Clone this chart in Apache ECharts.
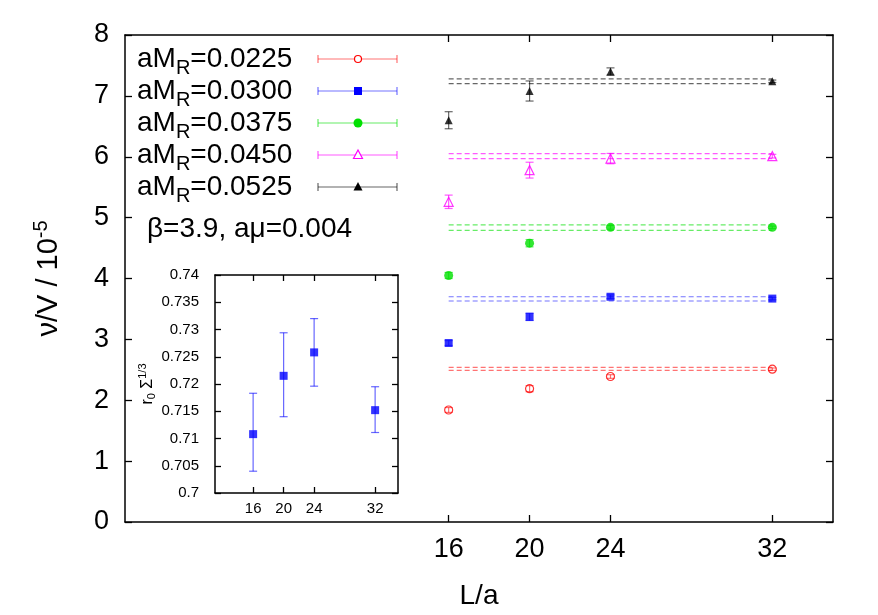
<!DOCTYPE html>
<html>
<head>
<meta charset="utf-8">
<script src="https://cdn.jsdelivr.net/npm/echarts@6/dist/echarts.min.js"></script>
<style>
  html, body { margin: 0; padding: 0; background: #fff; }
  #chart { width: 878px; height: 615px; }
</style>
</head>
<body>
<div id="chart"></div>
<script>
// lattice sizes
var L = [16, 20, 24, 32];
var fitX = [16, 32];

// nu/V in units of 1e-5, one list per aM_R
var masses = ['0.0225', '0.0300', '0.0375', '0.0450', '0.0525'];
var nu0225 = [1.84, 2.19, 2.39, 2.51];
var err0225 = [0.04, 0.05, 0.03, 0.02];
var nu0300 = [2.94, 3.37, 3.70, 3.67];
var err0300 = [0.04, 0.06, 0.03, 0.02];
var nu0375 = [4.05, 4.58, 4.84, 4.84];
var err0375 = [0.05, 0.06, 0.03, 0.02];
var nu0450 = [5.26, 5.78, 5.97, 6.01];
var err0450 = [0.11, 0.13, 0.085, 0.03];
var nu0525 = [6.60, 7.08, 7.40, 7.24];
var err0525 = [0.14, 0.165, 0.06, 0.02];

// constant fit bands (upper, lower)
var fit0225 = [2.54, 2.49];
var fit0300 = [3.70, 3.63];
var fit0375 = [4.88, 4.79];
var fit0450 = [6.05, 5.97];
var fit0525 = [7.28, 7.20];

// inset: r0 * sigma^(1/3)
var r0s = [0.7108, 0.7215, 0.7258, 0.7152];
var r0sLo = [0.7040, 0.7140, 0.7196, 0.7111];
var r0sHi = [0.7183, 0.7294, 0.7320, 0.7195];

var yTicksMain = [0, 1, 2, 3, 4, 5, 6, 7, 8];

var FONT = 'Liberation Sans';
var myChart = echarts.init(document.getElementById('chart'));

var sets = [
  {nu: nu0225, err: err0225, fit: fit0225, color: '#ff0000', light: 'rgba(255,0,0,0.55)', symbol: 'circle', open: true, size: 8},
  {nu: nu0300, err: err0300, fit: fit0300, color: '#0000ff', light: 'rgba(0,0,255,0.55)', symbol: 'rect', size: 8},
  {nu: nu0375, err: err0375, fit: fit0375, color: '#00e000', light: 'rgba(0,224,0,0.6)', symbol: 'circle', size: 9},
  {nu: nu0450, err: err0450, fit: fit0450, color: '#ff00ff', light: 'rgba(255,0,255,0.65)', symbol: 'triangle', open: true, size: 9},
  {nu: nu0525, err: err0525, fit: fit0525, color: '#000000', light: 'rgba(0,0,0,0.6)', symbol: 'triangle', size: 8}
];

// error bar drawer
function errBar(cap) {
  return function (params, api) {
    var x = api.value(0);
    var lo = api.coord([x, api.value(2)]);
    var hi = api.coord([x, api.value(3)]);
    var st = {stroke: api.visual('color'), lineWidth: 1.2, fill: null};
    return {
      type: 'group',
      children: [
        {type: 'line', shape: {x1: lo[0], y1: lo[1], x2: hi[0], y2: hi[1]}, style: st},
        {type: 'line', shape: {x1: lo[0] - cap, y1: lo[1], x2: lo[0] + cap, y2: lo[1]}, style: st},
        {type: 'line', shape: {x1: hi[0] - cap, y1: hi[1], x2: hi[0] + cap, y2: hi[1]}, style: st}
      ]
    };
  };
}

var series = [];
sets.forEach(function (s) {
  s.fit.forEach(function (f) {
    series.push({
      type: 'line', xAxisIndex: 0, yAxisIndex: 0, silent: true,
      data: fitX.map(function (x) { return [x, f]; }),
      symbol: 'none',
      lineStyle: {color: s.light, width: 1.2, type: [5, 3]},
      z: 1
    });
  });
  series.push({
    type: 'custom', xAxisIndex: 0, yAxisIndex: 0,
    renderItem: errBar(4),
    itemStyle: {color: s.light},
    data: L.map(function (x, i) { return [x, s.nu[i], s.nu[i] - s.err[i], s.nu[i] + s.err[i]]; }),
    z: 2
  });
  series.push({
    type: 'scatter', xAxisIndex: 0, yAxisIndex: 0,
    symbol: s.symbol, symbolSize: s.size,
    itemStyle: s.open
      ? {color: 'rgba(0,0,0,0)', borderColor: s.color, borderWidth: 1.2}
      : {color: s.color},
    data: L.map(function (x, i) { return [x, s.nu[i]]; }),
    z: 3
  });
});

// inset
series.push({
  type: 'custom', xAxisIndex: 2, yAxisIndex: 2,
  renderItem: errBar(4),
  itemStyle: {color: 'rgba(0,0,255,0.6)'},
  data: L.map(function (x, i) { return [x, r0s[i], r0sLo[i], r0sHi[i]]; }),
  z: 2
});
series.push({
  type: 'scatter', xAxisIndex: 2, yAxisIndex: 2,
  symbol: 'rect', symbolSize: 8,
  itemStyle: {color: '#0000ff'},
  data: L.map(function (x, i) { return [x, r0s[i]]; }),
  z: 3
});

var frameLine = {show: true, onZero: false, lineStyle: {color: '#000', width: 1.5}};
function tick(len, custom) {
  var t = {show: true, inside: true, length: len, lineStyle: {color: '#000', width: 1.3}};
  if (custom) t.customValues = custom;
  return t;
}

// legend (drawn by hand: text left, error-bar sample right)
var legendRows = [59, 91, 123, 155, 187];
var graphics = [];
masses.forEach(function (m, i) {
  var y = legendRows[i];
  var s = sets[i];
  graphics.push({
    type: 'text', x: 137, y: y,
    style: {
      text: '{a|aM}{s|R}{a|=' + m + '}',
      verticalAlign: 'middle',
      rich: {
        a: {fontSize: 28, fontFamily: FONT, fill: '#000'},
        s: {fontSize: 20, fontFamily: FONT, fill: '#000', padding: [18, 0, 0, 0]}
      }
    }
  });
  var ls = {stroke: s.light, lineWidth: 1.2};
  graphics.push({type: 'line', shape: {x1: 318, y1: y, x2: 397, y2: y}, style: ls});
  graphics.push({type: 'line', shape: {x1: 318, y1: y - 4, x2: 318, y2: y + 4}, style: ls});
  graphics.push({type: 'line', shape: {x1: 397, y1: y - 4, x2: 397, y2: y + 4}, style: ls});
  var cx = 358;
  if (s.symbol === 'circle') {
    graphics.push({type: 'circle', shape: {cx: cx, cy: y, r: s.open ? 3.5 : 4.5},
      style: s.open ? {fill: '#fff', stroke: s.color, lineWidth: 1.2} : {fill: s.color}});
  } else if (s.symbol === 'rect') {
    graphics.push({type: 'rect', shape: {x: cx - 4, y: y - 4, width: 8, height: 8}, style: {fill: s.color}});
  } else {
    graphics.push({type: 'polygon', shape: {points: [[cx, y - 5], [cx - 4.5, y + 3.5], [cx + 4.5, y + 3.5]]},
      style: s.open ? {fill: '#fff', stroke: s.color, lineWidth: 1.2} : {fill: s.color}});
  }
});
graphics.push({
  type: 'text', x: 147, y: 229,
  style: {text: 'β=3.9, aμ=0.004', verticalAlign: 'middle', fontSize: 28, fontFamily: FONT, fill: '#000'}
});

myChart.setOption({
  backgroundColor: '#fff',
  animation: false,
  textStyle: {fontFamily: FONT, color: '#000'},
  grid: [
    {left: 125, top: 35, width: 708, height: 487},
    {left: 215, top: 275, width: 183, height: 218, show: true, backgroundColor: '#fff', borderWidth: 0}
  ],
  xAxis: [
    {
      gridIndex: 0, type: 'value', position: 'bottom', min: 0, max: 35,
      axisLine: frameLine, axisTick: tick(7, L),
      axisLabel: {customValues: L, fontSize: 27, margin: 14, color: '#000', fontFamily: FONT},
      splitLine: {show: false},
      name: 'L/a', nameLocation: 'middle', nameGap: 60,
      nameTextStyle: {fontSize: 28, fontFamily: FONT, color: '#000'}
    },
    {
      gridIndex: 0, type: 'value', position: 'top', min: 0, max: 35,
      axisLine: frameLine, axisTick: tick(7, L),
      axisLabel: {show: false}, splitLine: {show: false}
    },
    {
      gridIndex: 1, type: 'value', position: 'bottom', min: 11, max: 35,
      axisLine: frameLine, axisTick: tick(6, L),
      axisLabel: {customValues: L, fontSize: 15, margin: 8, color: '#000', fontFamily: FONT},
      splitLine: {show: false}
    },
    {
      gridIndex: 1, type: 'value', position: 'top', min: 11, max: 35,
      axisLine: frameLine, axisTick: tick(6, L),
      axisLabel: {show: false}, splitLine: {show: false}
    }
  ],
  yAxis: [
    {
      gridIndex: 0, type: 'value', position: 'left', min: 0, max: 8, interval: 1,
      axisLine: frameLine, axisTick: tick(7, yTicksMain),
      axisLabel: {fontSize: 27, margin: 16, color: '#000', fontFamily: FONT},
      splitLine: {show: false},
      name: '{a|ν/V / 10}{p|-5}', nameLocation: 'middle', nameGap: 58,
      nameTextStyle: {
        rich: {
          a: {fontSize: 29, fontFamily: FONT, color: '#000'},
          p: {fontSize: 20, fontFamily: FONT, color: '#000', padding: [0, 0, 16, 0]}
        }
      }
    },
    {
      gridIndex: 0, type: 'value', position: 'right', min: 0, max: 8, interval: 1,
      axisLine: frameLine, axisTick: tick(7, yTicksMain),
      axisLabel: {show: false}, splitLine: {show: false}
    },
    {
      gridIndex: 1, type: 'value', position: 'left', min: 0.7, max: 0.74, interval: 0.005,
      axisLine: frameLine, axisTick: tick(6),
      axisLabel: {fontSize: 15, margin: 16, color: '#000', fontFamily: FONT},
      splitLine: {show: false},
      name: '{a|r}{b|0}{a| Σ}{c|1/3}', nameLocation: 'middle', nameGap: 54,
      nameTextStyle: {
        rich: {
          a: {fontSize: 16, fontFamily: FONT, color: '#000'},
          b: {fontSize: 11, fontFamily: FONT, color: '#000', padding: [8, 0, 0, 0]},
          c: {fontSize: 11, fontFamily: FONT, color: '#000', padding: [0, 0, 10, 0]}
        }
      }
    },
    {
      gridIndex: 1, type: 'value', position: 'right', min: 0.7, max: 0.74, interval: 0.005,
      axisLine: frameLine, axisTick: tick(6),
      axisLabel: {show: false}, splitLine: {show: false}
    }
  ],
  graphic: graphics,
  series: series
});
</script>
</body>
</html>
